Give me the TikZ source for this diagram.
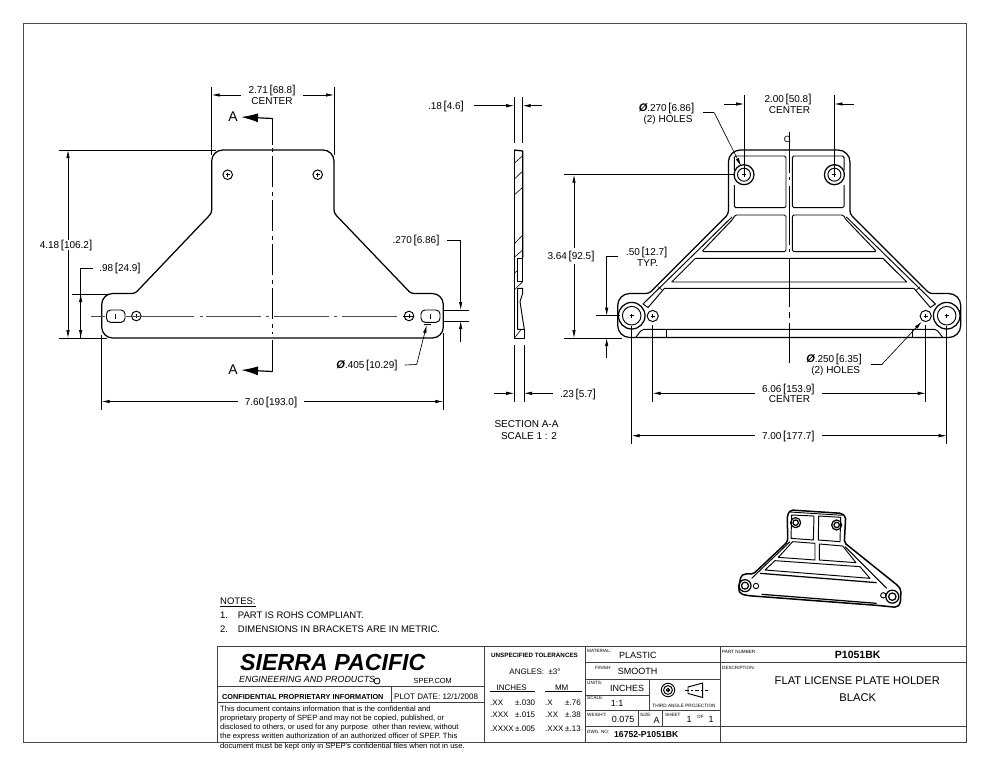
\documentclass[tikz,border=0pt]{standalone}
\usepackage{fontspec}
\setmainfont{Liberation Sans}
\usetikzlibrary{arrows.meta}
\tikzset{
    part/.style={line width=1.25pt, line join=round},
    pocket/.style={line width=.95pt, line join=round},
    thinline/.style={line width=.6pt},
    extline/.style={line width=.65pt},
    dimline/.style={line width=.65pt, -{Latex[length=8pt,width=3.4pt]}},
    secline/.style={line width=1.2pt},
    secarrow/.style={line width=1.2pt, -{Latex[length=17pt,width=9pt]}},
    dimtext/.style={font=\fontsize{10}{11}\selectfont, inner ysep=0pt, inner xsep=7pt, text height=7pt, text depth=0pt},
    blocktext/.style={inner sep=0pt, text height=6pt, text depth=0pt, anchor=west},
    blockline/.style={line width=1pt, black!75},
    notetext/.style={blocktext, font=\fontsize{9.5}{11}\selectfont},
    paratext/.style={blocktext, font=\fontsize{7.6}{9}\selectfont},
    fieldtext/.style={blocktext, font=\fontsize{9}{10}\selectfont},
    toltext/.style={blocktext, font=\fontsize{8}{9}\selectfont},
    tiny label/.style={font=\fontsize{4.6}{5}\selectfont, inner sep=0pt, anchor=west}
}
\newcommand{\brk}[2]{#1\hspace{1.6pt}{\fontsize{11.5}{11}\selectfont[}#2{\fontsize{11.5}{11}\selectfont]}}
\newcommand{\dia}{{\fontsize{11}{11}\selectfont\bfseries\itshape Ø}}
\newcommand{\drillhole}[2]{
    \draw[line width=.95pt] (#1) circle (#2pt);
    \draw[line width=.5pt] ([xshift=-2pt]#1) -- ([xshift=2pt]#1);
    \draw[line width=.5pt] ([yshift=-2pt]#1) -- ([yshift=2pt]#1);
}
\begin{document}
\begin{tikzpicture}[x=1pt, y=-1pt]
    \useasboundingbox (0,0) rectangle (990,765);
    \fill[white] (0,0) rectangle (990,765);

    % Drawing frame
    \draw[line width=.6pt, black!70] (23,23) rectangle (966.5,742.7);

    % Left view, outline
    \draw[part, rounded corners=11pt] (273,150) -- (334,150) [rounded corners=3pt] -- (334,213)
        -- (411,293.5) [rounded corners=11pt] -- (443.3,293.5) -- (443.3,338) -- (101.7,338)
        -- (101.7,293.5) [rounded corners=3pt] -- (135,293.5) -- (211.7,213) [rounded corners=11pt]
        -- (211.7,150) -- cycle;

    % Left view, holes and slots
    \coordinate (lh1) at (227.7,174.7);
    \coordinate (lh2) at (317.7,174.7);
    \coordinate (lh3) at (136.3,316);
    \coordinate (lh4) at (409,316);
    \coordinate (ls1) at (115.5,316);
    \coordinate (ls2) at (430.3,316);
    \drillhole{lh1}{4.8}
    \drillhole{lh2}{4.8}
    \drillhole{lh3}{4.8}
    \drillhole{lh4}{4.8}
    \draw[pocket, rounded corners=4pt] (106.5,310) rectangle (125,322.3);
    \draw[pocket, rounded corners=4pt] (421,310) rectangle (440,322.3);
    \draw[line width=.5pt] ([yshift=-2.5pt]ls1) -- ([yshift=2.5pt]ls1);
    \draw[line width=.5pt] ([yshift=-2.5pt]ls2) -- ([yshift=2.5pt]ls2);

    % Left view, center lines
    \draw[line width=.8pt, black!70] (91,316) -- (105,316);
    \draw[line width=.8pt, black!70] (126,316) -- (194,316);
    \draw[line width=.8pt, black!70] (200,316) -- (203,316);
    \draw[line width=.8pt, black!70, dash pattern=on 55pt off 5pt on 3pt off 5pt] (206,316) -- (397,316);
    \draw[line width=.6pt] (403,316) -- (414,316);

    % Section line A-A
    \node[font=\fontsize{14}{14}\selectfont, inner sep=0pt] (secatop) at (233,117) {A};
    \node[font=\fontsize{14}{14}\selectfont, inner sep=0pt] (secabot) at (233,370) {A};
    \coordinate (sectop) at (272.5,118.5);
    \coordinate (secbot) at (272.5,371.5);
    \draw[secarrow] (sectop) -- (secatop.east -| 241,118.5);
    \draw[secarrow] (secbot) -- (secabot.east -| 241,371.5);
    \draw[secline] (sectop) -- (272.5,145);
    \draw[secline, dash pattern=on 4pt off 4pt on 31pt off 5pt] (272.5,148) -- (272.5,334);
    \draw[secline] (secbot) -- (272.5,340);

    % Left view, dimensions
    \node[dimtext] (d271) at (272,90) {\brk{2.71}{68.8}};
    \node[dimtext] (d271b) at (272,101.5) {CENTER};
    \coordinate (e271a) at (211.7,95);
    \coordinate (e271b) at (334,95);
    \draw[extline] (211.7,87) -- (211.7,155);
    \draw[extline] (334,87) -- (334,155);
    \draw[dimline] (d271.west |- e271a) -- (e271a);
    \draw[dimline] (d271.east |- e271b) -- (e271b);

    \node[dimtext] (d418) at (66,245) {\brk{4.18}{106.2}};
    \coordinate (e418a) at (68,150);
    \coordinate (e418b) at (68,338);
    \draw[extline] (59,150) -- (216,150);
    \draw[extline] (59,338) -- (107,338);
    \draw[dimline] (68,240) -- (e418a);
    \draw[dimline] (68,250) -- (e418b);

    \node[dimtext, inner xsep=6pt] (d098) at (120,268) {\brk{.98}{24.9}};
    \coordinate (e098k) at (80.7,268);
    \coordinate (e098a) at (80.7,294);
    \coordinate (e098b) at (80.7,338);
    \draw[extline] (72,294) -- (108,294);
    \draw[extline] (d098.west) -- (e098k) -- (e098b);
    \draw[dimline] (80.7,310) -- (e098a);
    \draw[dimline] (80.7,320) -- (e098b);

    \node[dimtext] (d760) at (271,401.5) {\brk{7.60}{193.0}};
    \coordinate (e760a) at (101.7,401.5);
    \coordinate (e760b) at (443.3,401.5);
    \draw[extline] (101.7,335) -- (101.7,410);
    \draw[extline] (443.3,333) -- (443.3,410);
    \draw[dimline] (d760.west) -- (e760a);
    \draw[dimline] (d760.east) -- (e760b);

    \node[dimtext] (d270a) at (416,240) {\brk{.270}{6.86}};
    \coordinate (e270k) at (460.7,240);
    \coordinate (e270a) at (460.7,310);
    \coordinate (e270b) at (460.7,321);
    \draw[extline] (443,310) -- (469,310);
    \draw[extline] (443,321) -- (469,321);
    \draw[extline] (d270a.east) -- (e270k) -- (460.7,298);
    \draw[dimline] (460.7,298) -- (e270a);
    \draw[dimline] (460.7,342) -- (e270b);

    \node[dimtext] (d405) at (367,365) {\dia\brk{.405}{10.29}};
    \coordinate (e405k) at (416.7,364.5);
    \coordinate (e405a) at (426.7,325);
    \draw[extline] (d405.east) -- (e405k);
    \draw[dimline] (e405k) -- (e405a);
    \draw[line width=.8pt] (424,324) -- (431,324);

    % Section view
    \draw[part] (514.2,150) -- (522.7,151) -- (522.7,258);
    \draw[part] (514.2,150) -- (514.2,338.3) -- (524.3,338.3) -- (524.3,329.3);
    \draw[pocket] (522.7,258) -- (517.7,258) -- (517.7,281.7) -- (522.7,281.7) -- cycle;
    \draw[pocket] (517.7,288.3) -- (522.7,288.3) -- (522.7,293.3) -- (520,301.7) -- (524.3,329.3)
        -- (517.7,329.3) -- cycle;
    \draw[thinline] (514.2,163.3) -- (522.7,155.7);
    \draw[thinline] (514.2,179.3) -- (522.7,171);
    \draw[thinline] (514.2,195) -- (522.7,187.3);
    \draw[thinline] (514.2,244) -- (522.7,235);
    \draw[thinline] (514.2,257.3) -- (522.7,250);
    \draw[thinline] (514.2,273) -- (517.7,270.7);
    \draw[thinline] (514.2,290) -- (522.7,281.7);
    \draw[thinline] (514.2,338.3) -- (520.7,330);

    % Section view, dimensions
    \node[dimtext] (d018) at (446,106) {\brk{.18}{4.6}};
    \coordinate (e018a) at (514.2,105.7);
    \coordinate (e018b) at (522.7,105.7);
    \draw[extline] (514.2,97) -- (514.2,143.3);
    \draw[extline] (522.7,97) -- (522.7,143.3);
    \draw[dimline] (474,105.7) -- (e018a);
    \draw[dimline] (542,105.7) -- (e018b);

    \node[dimtext] (d023) at (578,394) {\brk{.23}{5.7}};
    \coordinate (e023a) at (514.2,393.3);
    \coordinate (e023b) at (524,393.3);
    \draw[extline] (514.2,345) -- (514.2,402);
    \draw[extline] (524,345) -- (524,402);
    \draw[dimline] (494,393.3) -- (e023a);
    \draw[dimline] (d023.west |- e023b) -- (e023b);

    \node[dimtext] (seca) at (526.5,424) {SECTION A-A};
    \node[dimtext] (secb) at (529,435.7) {SCALE 1 : 2};

    % Right view, outline
    \draw[part, rounded corners=12pt] (789.2,150) -- (850,150) [rounded corners=3pt] -- (850,214)
        -- (929.4,293.5) [rounded corners=12pt] -- (960.7,293.5) -- (960.7,337.5) -- (617.7,337.5)
        -- (617.7,293.5) [rounded corners=3pt] -- (649,293.5) -- (728.4,214) [rounded corners=12pt]
        -- (728.4,150) -- cycle;
    \draw[line width=1.8pt] (635,337.5) -- (943,337.5);

    % Right view, pockets (left half, then mirrored)
    \foreach \mirror/\off in {1/0, -1/1578.4}{
        \begin{scope}[shift={(\off,0)}, xscale=\mirror]
            \draw[pocket, rounded corners=1.5pt] (734.3,170) -- (734.3,156) -- (786,156) -- (786,207.7)
                -- (734.3,207.7) -- (734.3,185);
            \draw[pocket, rounded corners=1.5pt] (733,219) -- (735,215) -- (786,215) -- (786,251.7)
                -- (701.7,251.7) -- cycle;
            \draw[line width=.95pt] (732,217) -- (643,304) -- (648,307.5) -- (664.5,288.3) -- (789.2,288.3);
            \draw[thinline] (658.3,286.7) -- (662.7,290.7);
            \draw[pocket] (666,329.3) -- (666,337);
        \end{scope}
    }
    \draw[pocket] (695.5,258.3) -- (882.9,258.3) -- (906.7,282) -- (671.7,282) -- cycle;
    \draw[pocket, rounded corners=2pt] (636,337) -- (642,329.3) -- (936.4,329.3) -- (942.4,337);

    % Right view, holes
    \coordinate (rh1) at (744,174.7);
    \coordinate (rh2) at (834.4,174.7);
    \coordinate (rh3) at (631.7,315.7);
    \coordinate (rh4) at (946.7,315.7);
    \coordinate (rh5) at (652.7,316);
    \coordinate (rh6) at (925.7,316);
    \fill[white] (rh1) circle (10pt) (rh2) circle (10pt) (rh3) circle (13.3pt) (rh4) circle (13.3pt);
    \draw[part] (rh1) circle (10pt);
    \draw[part] (rh2) circle (10pt);
    \draw[part] (rh3) circle (13.3pt);
    \draw[part] (rh4) circle (13.3pt);
    \drillhole{rh1}{6.5}
    \drillhole{rh2}{6.5}
    \drillhole{rh3}{9.3}
    \drillhole{rh4}{9.3}
    \drillhole{rh5}{5.6}
    \drillhole{rh6}{5.6}

    % Right view, center line
    \node[font=\fontsize{9}{9}\selectfont, inner sep=0pt] (clc) at (787,139) {C};
    \draw[line width=.8pt] (789.2,132) -- (789.2,173);
    \draw[line width=.8pt] (789.2,177) -- (789.2,180);
    \draw[line width=.8pt] (789.2,186) -- (789.2,245);
    \draw[line width=.8pt] (789.2,249) -- (789.2,252);
    \draw[line width=.8pt] (789.2,258) -- (789.2,307);
    \draw[line width=.8pt] (789.2,312) -- (789.2,318);
    \draw[line width=.8pt] (789.2,323) -- (789.2,362.7);

    % Right view, dimensions
    \node[dimtext] (d200) at (788,99) {\brk{2.00}{50.8}};
    \node[dimtext] (d200b) at (789.5,110.3) {CENTER};
    \coordinate (e200a) at (744,104);
    \coordinate (e200b) at (834.4,104);
    \draw[extline] (744,95) -- (744,175);
    \draw[extline] (834.4,95) -- (834.4,175);
    \draw[dimline] (724,104) -- (e200a);
    \draw[dimline] (854,104) -- (e200b);

    \node[dimtext] (d270b) at (666.5,108.3) {\dia\brk{.270}{6.86}};
    \node[dimtext] (d270c) at (668,119.3) {(2) HOLES};
    \coordinate (e270c) at (714.3,112.7);
    \coordinate (e270d) at (741,166);
    \draw[extline] (702.7,112.7) -- (e270c);
    \draw[dimline] (e270c) -- (e270d);

    \node[dimtext] (d364) at (571,256) {\brk{3.64}{92.5}};
    \coordinate (e364a) at (574,174.7);
    \coordinate (e364b) at (574,338);
    \draw[extline] (564,174.7) -- (735,174.7);
    \draw[extline] (564,338) -- (622,338);
    \draw[dimline] (574,248) -- (e364a);
    \draw[dimline] (574,264) -- (e364b);

    \node[dimtext, inner xsep=2pt] (d050) at (646.7,251.7) {\brk{.50}{12.7}};
    \node[dimtext] (d050b) at (647.7,262.7) {TYP.};
    \coordinate (e050k) at (606.7,256.7);
    \coordinate (e050a) at (606.7,315.7);
    \coordinate (e050b) at (606.7,338);
    \draw[extline] (596,315.7) -- (620,315.7);
    \draw[extline] (618,256.7) -- (e050k) -- (606.7,300);
    \draw[dimline] (606.7,300) -- (e050a);
    \draw[dimline] (606.7,358) -- (e050b);

    \node[dimtext] (d250) at (834,359.3) {\dia\brk{.250}{6.35}};
    \node[dimtext] (d250b) at (835.7,370) {(2) HOLES};
    \coordinate (e250k) at (881.7,364.7);
    \coordinate (e250a) at (921.7,321.7);
    \draw[extline] (870.7,364.7) -- (e250k);
    \draw[dimline] (e250k) -- (e250a);

    \node[dimtext] (d606) at (788.3,389) {\brk{6.06}{153.9}};
    \node[dimtext] (d606b) at (789.5,399.3) {CENTER};
    \coordinate (e606a) at (652.7,393.3);
    \coordinate (e606b) at (925.7,393.3);
    \draw[extline] (652.7,325) -- (652.7,402);
    \draw[extline] (925.7,325) -- (925.7,402);
    \draw[dimline] (d606.west |- e606a) -- (e606a);
    \draw[dimline] (d606.east |- e606b) -- (e606b);

    \node[dimtext] (d700) at (788.3,435.7) {\brk{7.00}{177.7}};
    \coordinate (e700a) at (631.7,435.7);
    \coordinate (e700b) at (946.7,435.7);
    \draw[extline] (631.7,326) -- (631.7,444);
    \draw[extline] (946.7,326) -- (946.7,444);
    \draw[dimline] (d700.west) -- (e700a);
    \draw[dimline] (d700.east) -- (e700b);

    % Isometric view
    \begin{scope}[shift={(720,500)}, x=.3333pt, y=-.3333pt]
        \draw[line width=1.5pt, line join=round, rounded corners=2pt] (212,30) -- (365,40) -- (377,50) -- (373,128) -- (535,258)
            -- (543,270) -- (541,312) -- (530,322) -- (470,316) -- (125,290) -- (85,287) -- (62,282) -- (55,268)
            -- (63,228) -- (72,222) -- (100,222) -- (203,125) -- (202,45) -- cycle;
        \draw[line width=.9pt] (210,36) -- (368,46);
        \draw[pocket] (215,45) -- (282,48) -- (280,120) -- (213,115) -- cycle;
        \draw[pocket] (296,48) -- (362,52) -- (360,125) -- (295,120) -- cycle;
        \draw[pocket] (218,125) -- (285,130) -- (285,180) -- (175,172) -- cycle;
        \draw[pocket] (298,132) -- (368,138) -- (408,188) -- (298,180) -- cycle;
        \draw[pocket] (165,182) -- (420,200) -- (450,235) -- (135,210) -- cycle;
        \draw[part] (120,220) -- (470,248);
        \draw[part] (125,283) -- (470,310);
        \draw[pocket] (210,125) -- (95,235);
        \draw[pocket] (375,140) -- (500,265);
        \draw[part] (227,68) circle (5pt);
        \draw[part] (227,68) circle (2.7pt);
        \draw[part] (350,75) circle (5pt);
        \draw[part] (350,75) circle (2.7pt);
        \draw[part] (75,257) circle (6pt);
        \draw[part] (75,257) circle (3.5pt);
        \draw[part] (517,290) circle (6.5pt);
        \draw[part] (517,290) circle (3.7pt);
        \draw[pocket] (108,258) circle (2.7pt);
        \draw[pocket] (490,286) circle (2.7pt);
    \end{scope}

    % Notes
    \node[notetext] (notes) at (220,601.5) {\underline{NOTES:}};
    \node[notetext] (note1n) at (220,615) {1.};
    \node[notetext] (note1) at (237.7,615) {PART IS ROHS COMPLIANT.};
    \node[notetext] (note2n) at (220,629) {2.};
    \node[notetext] (note2) at (237.7,629) {DIMENSIONS IN BRACKETS ARE IN METRIC.};

    % Title block, lines
    \draw[blockline] (217.7,742.7) -- (217.7,646.7) -- (966.5,646.7) -- (966.5,742.7) -- (485,742.7);
    \draw[blockline] (217.7,686.7) -- (484.7,686.7);
    \draw[blockline] (217.7,702.7) -- (484.7,702.7);
    \draw[blockline] (391,686.7) -- (391,702.7);
    \draw[blockline] (484.7,646.7) -- (484.7,742.7);
    \draw[blockline] (585,646.7) -- (585,742.7);
    \draw[blockline] (720,646.7) -- (720,742.7);
    \draw[blockline] (585,662.7) -- (966.5,662.7);
    \draw[blockline] (585,679.3) -- (720,679.3);
    \draw[blockline] (585,695) -- (649,695);
    \draw[blockline] (649,679.3) -- (649,710);
    \draw[blockline] (585,710) -- (720,710);
    \draw[blockline] (638.3,710) -- (638.3,726);
    \draw[blockline] (662.7,710) -- (662.7,726);
    \draw[blockline] (585,726) -- (966.5,726);
    \draw[line width=.9pt] (490,691.7) -- (535,691.7);
    \draw[line width=.9pt] (545,691.7) -- (581.7,691.7);

    % Title block, company
    \node[blocktext, font=\fontsize{23.2}{23}\selectfont\bfseries\itshape, text height=16pt] (company) at (240,662.7) {SIERRA PACIFIC};
    \node[blocktext, font=\fontsize{8.9}{10}\selectfont\itshape] (companyb) at (239,679) {ENGINEERING AND PRODUCTS};
    \node[circle, draw, line width=.8pt, inner sep=0pt, minimum size=6pt] (regmark) at (377,681) {};
    \node[blocktext, font=\fontsize{7.4}{8}\selectfont] (web) at (413.5,680) {SPEP.COM};
    \node[blocktext, font=\fontsize{7.3}{9}\selectfont\bfseries] (confid) at (222,696) {CONFIDENTIAL PROPRIETARY INFORMATION};
    \node[blocktext, font=\fontsize{8}{9}\selectfont] (plot) at (394,696) {PLOT DATE: 12/1/2008};
    \node[paratext] (para1) at (220,708.3) {This document contains information that is the confidential and};
    \node[paratext] (para2) at (220,717) {proprietary property of SPEP and may not be copied, published, or};
    \node[paratext] (para3) at (220,726) {disclosed to others, or used for any purpose\ \ other than review, without};
    \node[paratext] (para4) at (220,735) {the express written authorization of an authorized officer of SPEP. This};
    \node[paratext] (para5) at (220,745) {document must be kept only in SPEP's confidential files when not in use.};

    % Title block, tolerances
    \node[blocktext, anchor=center, font=\fontsize{6.25}{8}\selectfont\bfseries] (unspec) at (534.5,654) {UNSPECIFIED TOLERANCES};
    \node[blocktext, anchor=center, font=\fontsize{8}{9}\selectfont] (angles) at (535,671) {ANGLES:\ \ ±3°};
    \node[toltext, anchor=center] (tolin) at (511.7,687.5) {INCHES};
    \node[toltext, anchor=center] (tolmm) at (561.7,687.5) {MM};
    \foreach \rowname/\rowy/\ca/\cb/\cc/\cd in {a/702.7/.XX/±.030/.X/±.76, b/714.7/.XXX/±.015/.XX/±.38, c/728.7/.XXXX/±.005/.XXX/±.13}{
        \node[toltext] (tol\rowname1) at (490,\rowy) {\ca};
        \node[toltext] (tol\rowname2) at (515,\rowy) {\cb};
        \node[toltext] (tol\rowname3) at (545,\rowy) {\cc};
        \node[toltext] (tol\rowname4) at (565,\rowy) {\cd};
    }

    % Title block, fields
    \node[tiny label] (lmat) at (587,651) {MATERIAL:};
    \node[fieldtext] (vmat) at (619,655) {PLASTIC};
    \node[tiny label] (lfin) at (595,668) {FINISH:};
    \node[fieldtext] (vfin) at (617.7,671.7) {SMOOTH};
    \node[tiny label] (luni) at (587,682.7) {UNITS:};
    \node[fieldtext] (vuni) at (610,688) {INCHES};
    \node[tiny label] (lsca) at (587,698) {SCALE:};
    \node[fieldtext] (vsca) at (610.7,703) {1:1};
    \node[tiny label] (lwei) at (587,715) {WEIGHT:};
    \node[fieldtext] (vwei) at (611.7,719.5) {0.075};
    \node[tiny label] (lsiz) at (640,715) {SIZE:};
    \node[fieldtext] (vsiz) at (653.5,720) {A};
    \node[tiny label] (lshe) at (665,715) {SHEET};
    \node[fieldtext] (vshe) at (686.5,719.5) {1};
    \node[tiny label] (lof) at (697,717) {OF};
    \node[fieldtext] (vtot) at (708.5,719.5) {1};
    \node[tiny label] (ldwg) at (587,731.7) {DWG. NO:};
    \node[blocktext, font=\fontsize{8.6}{10}\selectfont\bfseries] (vdwg) at (614,734) {16752-P1051BK};
    \node[tiny label, anchor=center, font=\fontsize{4.7}{5}\selectfont] (lthird) at (684,706) {THIRD ANGLE PROJECTION};
    \node[tiny label] (lpart) at (722,651.7) {PART NUMBER:};
    \node[blocktext, anchor=center, font=\fontsize{10.5}{12}\selectfont\bfseries] (vpart) at (857.7,655) {P1051BK};
    \node[tiny label] (ldesc) at (722,668) {DESCRIPTION:};
    \node[blocktext, anchor=center, font=\fontsize{11.2}{12}\selectfont] (vdesc) at (857.3,681) {FLAT LICENSE PLATE HOLDER};
    \node[blocktext, anchor=center, font=\fontsize{11.2}{12}\selectfont] (vdescb) at (857.7,698.3) {BLACK};

    % Projection symbol
    \coordinate (proj) at (668,690);
    \draw[pocket] (proj) circle (6.7pt);
    \draw[pocket] (proj) circle (4.4pt);
    \drillhole{proj}{1.8}
    \draw[pocket] (688,687) -- (702.7,683) -- (702.7,697.5) -- (688,693.5) -- cycle;
    \draw[thinline, dash pattern=on 4pt off 2pt on 2pt off 2pt] (685,690) -- (708,690);
\end{tikzpicture}
\end{document}
